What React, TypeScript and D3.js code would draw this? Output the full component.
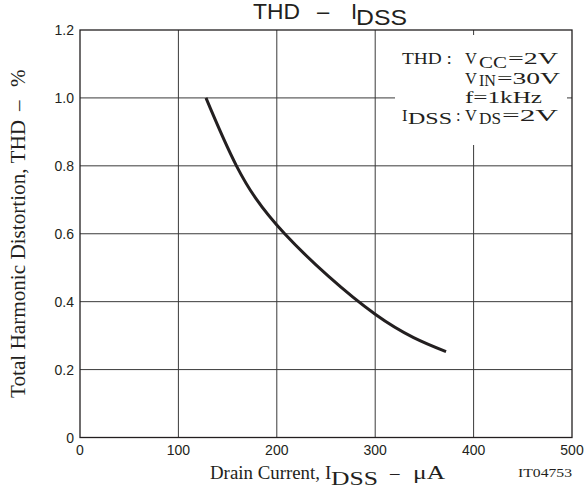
import React from "react";
import * as d3 from "d3";

const xTicks = [0, 100, 200, 300, 400, 500];
const yTicks = [0, 0.2, 0.4, 0.6, 0.8, 1.0, 1.2];
const yTickLabels = ["0", "0.2", "0.4", "0.6", "0.8", "1.0", "1.2"];
const currentUA = [128, 159, 208, 300, 372];
const thdPct = [1.0, 0.8, 0.6, 0.363, 0.253];

const W = 586;
const H = 490;
const L = 80, R = 572, T = 30, B = 437.5;

const serif = "'Liberation Serif', 'Times New Roman', serif";
const sans = "'Liberation Sans', Arial, sans-serif";
const ink = "#231f20";

export default function App() {
  const x = d3.scaleLinear().domain([0, 500]).range([L, R]);
  const y = d3.scaleLinear().domain([0, 1.2]).range([B, T]);
  const pts: [number, number][] = currentUA.map((c, i) => [c, thdPct[i]]);
  const line = d3
    .line<[number, number]>()
    .x((d) => x(d[0]))
    .y((d) => y(d[1]))
    .curve(d3.curveNatural);

  return (
    <svg
      width={W}
      height={H}
      style={{ position: "absolute", left: 0, top: 0, background: "#fff" }}
    >
      <rect x={0} y={0} width={W} height={H} fill="#fff" />
      {/* grid */}
      {xTicks.slice(1, -1).map((t) => (
        <line key={"gx" + t} x1={x(t)} x2={x(t)} y1={T} y2={B} stroke="#3a3a3a" strokeWidth={1} />
      ))}
      {yTicks.slice(1, -1).map((t) => (
        <line key={"gy" + t} x1={L} x2={R} y1={y(t)} y2={y(t)} stroke="#3a3a3a" strokeWidth={1} />
      ))}
      {/* legend box background */}
      <rect x={395} y={35} width={172} height={110} fill="#fff" />
      {/* frame */}
      <rect x={L} y={T} width={R - L} height={B - T} fill="none" stroke={ink} strokeWidth={1.3} />
      {/* curve */}
      <path d={line(pts) || ""} fill="none" stroke={ink} strokeWidth={3} />

      {/* tick labels */}
      {xTicks.map((t) => (
        <text key={"tx" + t} x={x(t)} y={455} textAnchor="middle" fontFamily={sans} fontSize={14} fill={ink}>
          {t}
        </text>
      ))}
      {yTicks.map((t, i) => (
        <text key={"ty" + t} x={74} y={y(t) + 5} textAnchor="end" fontFamily={sans} fontSize={14} fill={ink}>
          {yTickLabels[i]}
        </text>
      ))}

      {/* title */}
      <text fontFamily={sans} fontSize={22} fill={ink} y={18.5}>
        <tspan x={253} textLength={47} lengthAdjust="spacingAndGlyphs">THD</tspan>
        <tspan x={317}>–</tspan>
        <tspan x={351}>I</tspan>
        <tspan x={356} dy={6.5} textLength={51} lengthAdjust="spacingAndGlyphs">DSS</tspan>
      </text>

      {/* x axis label */}
      <text fontFamily={serif} fontSize={19} fill={ink} y={479}>
        <tspan x={210} textLength={110} lengthAdjust="spacingAndGlyphs">Drain Current,</tspan>
        <tspan x={325}>I</tspan>
        <tspan x={331} dy={6} textLength={47} lengthAdjust="spacingAndGlyphs">DSS</tspan>
        <tspan x={390} dy={-6}>–</tspan>
        <tspan x={413} textLength={32} lengthAdjust="spacingAndGlyphs">μA</tspan>
      </text>
      <text x={518} y={476.5} fontFamily={serif} fontSize={13} fill={ink} textLength={54} lengthAdjust="spacingAndGlyphs">
        IT04753
      </text>

      {/* y axis label */}
      <text transform="translate(25,0) rotate(-90)" fontFamily={serif} fontSize={21} fill={ink} y={0}>
        <tspan x={-398} textLength={278} lengthAdjust="spacingAndGlyphs">Total Harmonic Distortion, THD</tspan>
        <tspan x={-111}>–</tspan>
        <tspan x={-87}>%</tspan>
      </text>

      {/* legend */}
      <g fontFamily={serif} fontSize={16.5} fill={ink}>
        <text y={64}>
          <tspan x={402} textLength={50} lengthAdjust="spacingAndGlyphs">THD :</tspan>
          <tspan x={465}>V</tspan>
          <tspan x={479} dy={4} textLength={28} lengthAdjust="spacingAndGlyphs">CC</tspan>
          <tspan x={508} dy={-4} textLength={50} lengthAdjust="spacingAndGlyphs">=2V</tspan>
        </text>
        <text y={84}>
          <tspan x={465}>V</tspan>
          <tspan x={479} dy={1.5} textLength={17} lengthAdjust="spacingAndGlyphs">IN</tspan>
          <tspan x={497} dy={-1.5} textLength={63} lengthAdjust="spacingAndGlyphs">=30V</tspan>
        </text>
        <text x={465} y={103} textLength={77} lengthAdjust="spacingAndGlyphs">f=1kHz</text>
        <text y={120.5}>
          <tspan x={402}>I</tspan>
          <tspan x={408} dy={3.5} textLength={44} lengthAdjust="spacingAndGlyphs">DSS</tspan>
          <tspan x={456} dy={-3.5}>:</tspan>
          <tspan x={465}>V</tspan>
          <tspan x={479} dy={3.5} textLength={22} lengthAdjust="spacingAndGlyphs">DS</tspan>
          <tspan x={502} dy={-3.5} textLength={56} lengthAdjust="spacingAndGlyphs">=2V</tspan>
        </text>
      </g>
    </svg>
  );
}
